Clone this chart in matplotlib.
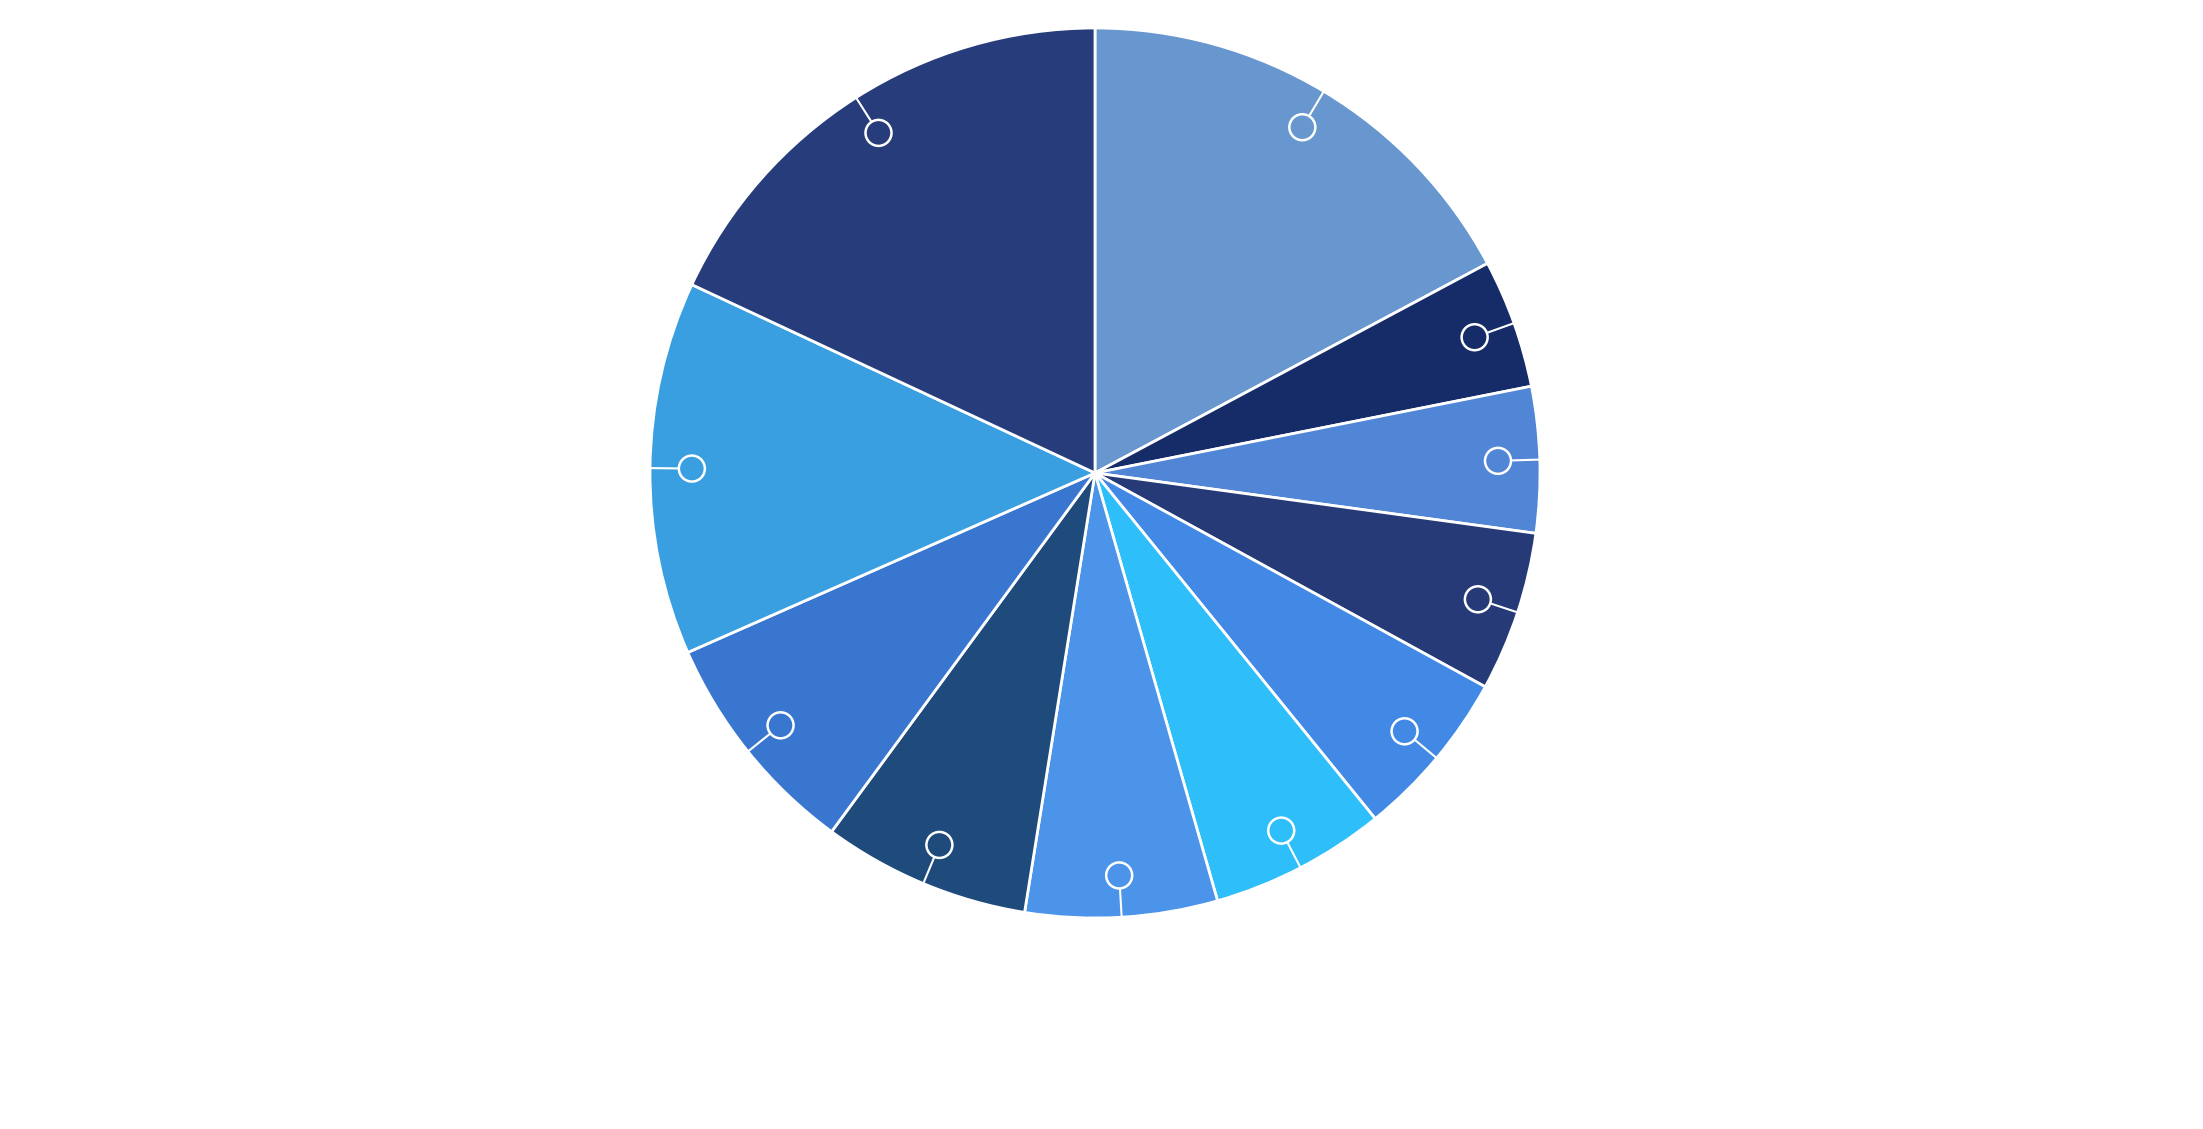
import numpy as np
import matplotlib
matplotlib.use("Agg")
import matplotlib.pyplot as plt
from matplotlib.patches import Circle

# slice shares (percent), clockwise from 12 o'clock
shares = [17.19, 4.68, 5.29, 5.81, 6.18, 6.40, 6.97, 7.55, 8.31, 13.56, 18.04]
colors = ["#6897cf", "#152c69", "#5185d5", "#253a76", "#4289e6", "#2ebef9",
          "#4b94ea", "#1f4a7c", "#3876d0", "#3a9fe0", "#273d7b"]

W, H = 2203, 1129
cx, cy, R = 1095, 473, 445   # pie centre / radius in pixels

fig = plt.figure(figsize=(W / 100, H / 100), dpi=100)
ax = fig.add_axes([0, 0, 1, 1])

wedges, _ = ax.pie(shares, colors=colors, startangle=90, counterclock=False,
                   radius=1.0,
                   wedgeprops=dict(edgecolor="white", linewidth=2.0))

# little marker circles with a leader line to the rim
r_mark = 0.906
c_rad = 13 / R
for w in wedges:
    mid = np.deg2rad((w.theta1 + w.theta2) / 2)
    ux, uy = np.cos(mid), np.sin(mid)
    ax.plot([ux * (r_mark + c_rad), ux * 1.0], [uy * (r_mark + c_rad), uy * 1.0],
            color="white", lw=1.5, solid_capstyle="butt", zorder=3)
    ax.add_patch(Circle((ux * r_mark, uy * r_mark), c_rad, facecolor=w.get_facecolor(),
                        edgecolor="white", lw=1.8, zorder=4))

ax.set_xlim(-cx / R, (W - cx) / R)
ax.set_ylim(-(H - cy) / R, cy / R)
ax.set_aspect("auto")
ax.axis("off")

fig.savefig("out.png", dpi=100, facecolor="white")
